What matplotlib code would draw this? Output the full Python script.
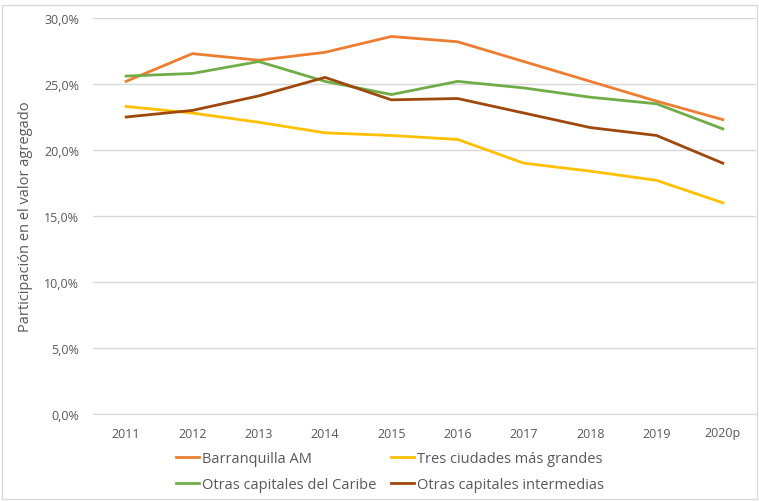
import numpy as np
import matplotlib.pyplot as plt
from matplotlib.patches import Rectangle
from matplotlib.ticker import FuncFormatter

years = ['2011', '2012', '2013', '2014', '2015', '2016', '2017', '2018', '2019', '2020p']
barranquilla = [25.2, 27.3, 26.8, 27.4, 28.6, 28.2, 26.7, 25.2, 23.7, 22.3]
tres_ciudades = [23.3, 22.8, 22.1, 21.3, 21.1, 20.8, 19.0, 18.4, 17.7, 16.0]
otras_caribe = [25.6, 25.8, 26.7, 25.2, 24.2, 25.2, 24.7, 24.0, 23.5, 21.6]
otras_intermedias = [22.5, 23.0, 24.1, 25.5, 23.8, 23.9, 22.8, 21.7, 21.1, 19.0]

plt.rcParams['font.family'] = ['Open Sans', 'DejaVu Sans']
gray = '#595959'

fig = plt.figure(figsize=(7.59, 5.02), dpi=100)
ax = fig.add_axes([93 / 759, 1 - 415 / 502, (756 - 93) / 759, (415 - 19) / 502])
fig.patches.append(Rectangle((0.003, 0.003), 0.994, 0.985, transform=fig.transFigure,
                             fill=False, edgecolor='#d9d9d9', linewidth=1))

x = np.arange(len(years))
l1, = ax.plot(x, barranquilla, color='#ED7D31', lw=2, label='Barranquilla AM')
l2, = ax.plot(x, tres_ciudades, color='#FFC000', lw=2, label='Tres ciudades más grandes')
l3, = ax.plot(x, otras_caribe, color='#70AD47', lw=2, label='Otras capitales del Caribe')
l4, = ax.plot(x, otras_intermedias, color='#9E480E', lw=2, label='Otras capitales intermedias')

ax.set_xlim(-0.5, len(years) - 0.5)
ax.set_ylim(0, 30)
ax.set_yticks(np.arange(0, 31, 5))
ax.yaxis.set_major_formatter(FuncFormatter(lambda v, p: f'{v:.1f}%'.replace('.', ',')))
ax.set_xticks(x)
ax.set_xticklabels(years)
ax.grid(axis='y', color='#d9d9d9', lw=1)
ax.set_axisbelow(True)
for s in ['top', 'right', 'left']:
    ax.spines[s].set_visible(False)
ax.spines['bottom'].set_color('#d9d9d9')
ax.tick_params(axis='both', length=0, labelsize=9, colors=gray, pad=9)
ax.tick_params(axis='y', pad=10)
ax.set_ylabel('Participación en el valor agregado', fontsize=10.5, color=gray, labelpad=8)

handles = [l1, l3, l2, l4]
ax.legend(handles, [h.get_label() for h in handles], loc='upper left',
          bbox_to_anchor=(0.105, -0.06), ncol=2, frameon=False,
          fontsize=10.5, handlelength=1.6, handletextpad=0.2, columnspacing=1.0,
          labelcolor=gray, labelspacing=0.75)

fig.savefig('out.png', dpi=100)
